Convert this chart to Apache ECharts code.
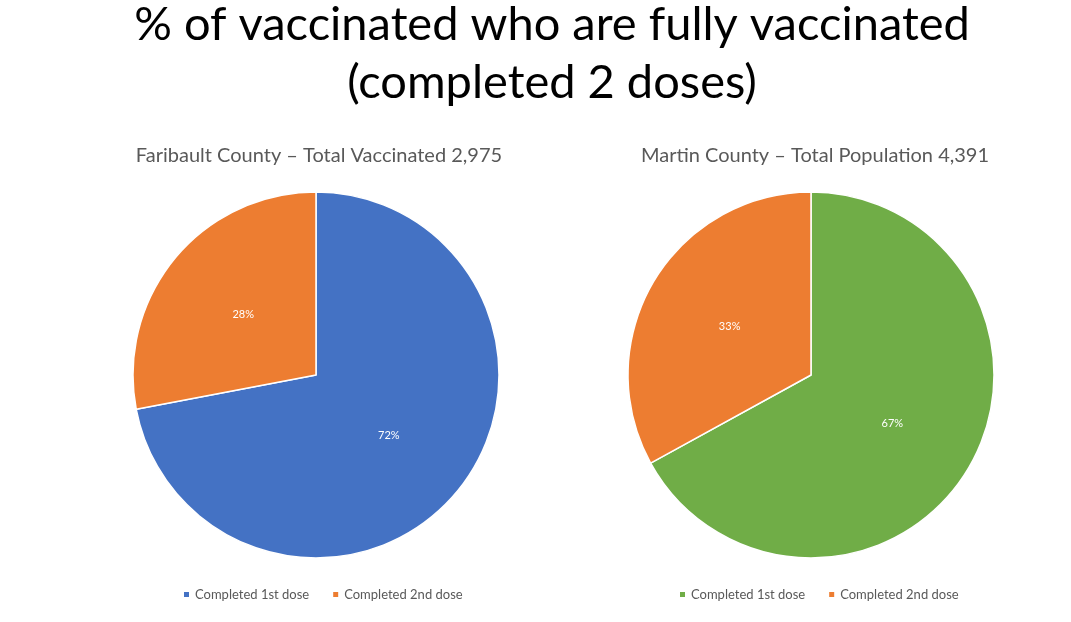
<!DOCTYPE html>
<html><head><meta charset="utf-8">
<script src="https://cdn.jsdelivr.net/npm/echarts@6/dist/echarts.min.js"></script>
<style>html,body{margin:0;padding:0;background:#fff}#c{width:1071px;height:622px}</style>
</head><body><div id="c"></div>
<script>
const categories = ['Completed 1st dose', 'Completed 2nd dose'];
const faribaultValues = [72, 28];
const martinValues = [67, 33];
const faribaultTitle = 'Faribault County – Total Vaccinated 2,975';
const martinTitle = 'Martin County – Total Population 4,391';
const mainTitle = '% of vaccinated who are fully vaccinated\n(completed 2 doses)';
const faribaultColors = ['#4472C4', '#ED7D31'];
const martinColors = ['#70AD47', '#ED7D31'];

const font = 'Lato, "Open Sans", sans-serif';
const chart = echarts.init(document.getElementById('c'));
function pieData(vals, colors) {
  return categories.map((n, i) => ({ name: n, value: vals[i], itemStyle: { color: colors[i] } }));
}
const legendBase = { itemWidth: 7, itemHeight: 7, itemGap: 22, icon: 'rect', top: 583, selectedMode: false,
  textStyle: { fontFamily: font, fontSize: 13, color: '#595959' } };
chart.setOption({
  animation: false,
  title: [
    { text: mainTitle, left: 547, top: -9, textAlign: 'center',
      textStyle: { fontFamily: font, fontSize: 47, fontWeight: 'normal', color: '#000', lineHeight: 58, align: 'center' } },
    { text: faribaultTitle, left: 314, top: 141, textAlign: 'center',
      textStyle: { fontFamily: font, fontSize: 20, fontWeight: 'normal', color: '#595959' } },
    { text: martinTitle, left: 810, top: 141, textAlign: 'center',
      textStyle: { fontFamily: font, fontSize: 20, fontWeight: 'normal', color: '#595959' } }
  ],
  legend: [
    Object.assign({}, legendBase, { left: 177,
      data: categories.map((n, i) => ({ name: n, itemStyle: { color: faribaultColors[i] } })) }),
    Object.assign({}, legendBase, { left: 673,
      data: categories.map((n, i) => ({ name: n, itemStyle: { color: martinColors[i] } })) })
  ],
  series: [
    { type: 'pie', center: [316, 375], radius: 183, startAngle: 90, clockwise: true,
      data: pieData(faribaultValues, faribaultColors),
      itemStyle: { borderColor: '#fff', borderWidth: 1.5 },
      label: { position: 'inside', formatter: '{c}%', color: '#fff', fontSize: 11, fontFamily: font },
      labelLine: { show: false } },
    { type: 'pie', center: [811, 375], radius: 183, startAngle: 90, clockwise: true,
      data: pieData(martinValues, martinColors),
      itemStyle: { borderColor: '#fff', borderWidth: 1.5 },
      label: { position: 'inside', formatter: '{c}%', color: '#fff', fontSize: 11, fontFamily: font },
      labelLine: { show: false } }
  ]
});
</script></body></html>
